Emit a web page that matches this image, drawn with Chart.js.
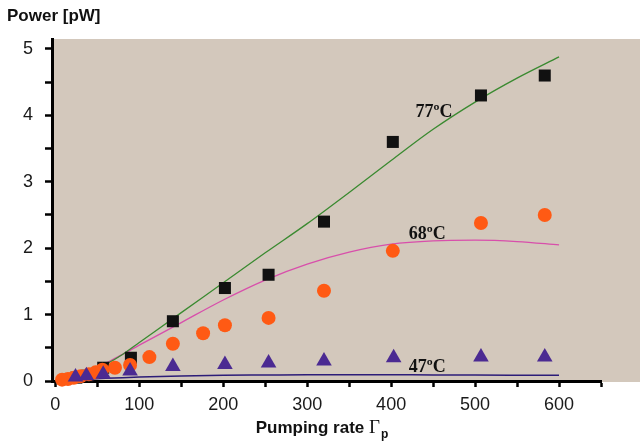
<!DOCTYPE html>
<html>
<head>
<meta charset="utf-8">
<script src="https://cdn.jsdelivr.net/npm/chart.js@4"></script>
<style>
  html, body { margin: 0; padding: 0; background: #fff; }
  #wrap { width: 640px; height: 445px; }
</style>
</head>
<body>
<div id="wrap"><canvas id="chart"></canvas></div>
<script>
// measured points, Power [pW] vs pumping rate
const sqX = [25, 38, 57, 90, 140, 202, 254, 320, 402, 507, 583];
const sqY = [0.05, 0.08, 0.2, 0.35, 0.9, 1.4, 1.6, 2.4, 3.6, 4.3, 4.6];
const dotX = [8, 15, 22, 30, 40, 48, 56, 71, 89, 112, 140, 176, 202, 254, 320, 402, 507, 583];
const dotY = [0.02, 0.03, 0.05, 0.07, 0.1, 0.13, 0.17, 0.2, 0.24, 0.36, 0.56, 0.72, 0.84, 0.95, 1.36, 1.96, 2.38, 2.5];
const triX = [24, 37, 57, 89, 140, 202, 254, 320, 403, 507, 583];
const triY = [0.06, 0.08, 0.1, 0.15, 0.22, 0.25, 0.27, 0.3, 0.35, 0.36, 0.36];

// model curves
const fitX = [0, 20, 40, 60, 80, 100, 150, 200, 250, 300, 350, 400, 450, 500, 550, 600];
const fit77 = [0, 0.05, 0.13, 0.25, 0.4, 0.58, 1.03, 1.48, 1.93, 2.37, 2.84, 3.32, 3.79, 4.2, 4.56, 4.88];
const fit68 = [0, 0.05, 0.14, 0.27, 0.4, 0.54, 0.88, 1.22, 1.52, 1.76, 1.94, 2.06, 2.11, 2.12, 2.1, 2.05];
const fit47 = [0, 0.015, 0.03, 0.04, 0.05, 0.06, 0.075, 0.085, 0.09, 0.095, 0.095, 0.095, 0.09, 0.09, 0.088, 0.085];

const xTicks = [0, 50, 100, 150, 200, 250, 300, 350, 400, 450, 500, 550, 600, 650];
const yTicks = [0, 0.5, 1, 1.5, 2, 2.5, 3, 3.5, 4, 4.5, 5];

const tempLabels = ['77ºC', '68ºC', '47ºC'];
const tempAt = [[451, 4.07], [443, 2.23], [443, 0.23]];

function pts(xs, ys) {
    return xs.map((x, i) => ({ x: x, y: ys[i] }));
}

const bgPlugin = {
    id: 'bg',
    beforeDraw(chart) {
        const { ctx, chartArea } = chart;
        ctx.save();
        ctx.fillStyle = '#d3c8bc';
        ctx.fillRect(chartArea.left, chartArea.top, chart.width - chartArea.left, chartArea.bottom - chartArea.top + 1);
        ctx.restore();
    }
};

const textPlugin = {
    id: 'texts',
    afterDraw(chart) {
        const ctx = chart.ctx;
        const xs = chart.scales.x, ys = chart.scales.y;
        ctx.save();
        ctx.fillStyle = '#111';
        ctx.textBaseline = 'alphabetic';
        // temperature labels
        ctx.font = 'bold 18px "Liberation Serif"';
        ctx.textAlign = 'center';
        tempLabels.forEach((t, i) => {
            ctx.fillText(t, xs.getPixelForValue(tempAt[i][0]), ys.getPixelForValue(tempAt[i][1]) + 6);
        });
        // y title
        ctx.textAlign = 'left';
        ctx.font = 'bold 17px "Liberation Sans"';
        ctx.fillText('Power [pW]', 7, 21);
        // x title with subscript
        const a = 'Pumping rate ';
        ctx.font = 'bold 17px "Liberation Sans"';
        const wa = ctx.measureText(a).width;
        ctx.font = '19px "Liberation Serif"';
        const wg = ctx.measureText('Γ').width;
        ctx.font = 'bold 12px "Liberation Sans"';
        const wp = ctx.measureText('p').width;
        let x0 = 322 - (wa + wg + wp + 1) / 2;
        const base = 433;
        ctx.font = 'bold 17px "Liberation Sans"';
        ctx.fillText(a, x0, base);
        ctx.font = '19px "Liberation Serif"';
        ctx.fillText('Γ', x0 + wa, base);
        ctx.font = 'bold 12px "Liberation Sans"';
        ctx.fillText('p', x0 + wa + wg + 1, base + 5);
        ctx.restore();
    }
};

const tickFont = { family: 'Liberation Sans', size: 18 };

new Chart(document.getElementById('chart'), {
    type: 'scatter',
    data: {
        // first dataset is drawn on top
        datasets: [
            { label: '47', data: pts(triX, triY), pointStyle: 'triangle', pointRadius: 9, backgroundColor: '#4b2a92', borderColor: '#4b2a92', borderWidth: 0, clip: false },
            { label: '68', data: pts(dotX, dotY), pointStyle: 'circle', pointRadius: 7, backgroundColor: '#ff5a14', borderColor: '#ff5a14', borderWidth: 0, clip: false },
            { label: '77', data: pts(sqX, sqY), pointStyle: 'rect', pointRadius: 8.5, backgroundColor: '#111', borderColor: '#111', borderWidth: 0, clip: false },
            { label: 'fit77', data: pts(fitX, fit77), showLine: true, pointRadius: 0, borderColor: '#3a8a30', borderWidth: 1.3, cubicInterpolationMode: 'monotone' },
            { label: 'fit68', data: pts(fitX, fit68), showLine: true, pointRadius: 0, borderColor: '#d84fab', borderWidth: 1.3, cubicInterpolationMode: 'monotone' },
            { label: 'fit47', data: pts(fitX, fit47), showLine: true, pointRadius: 0, borderColor: '#2c1c78', borderWidth: 1.5, cubicInterpolationMode: 'monotone' }
        ]
    },
    options: {
        responsive: true,
        maintainAspectRatio: false,
        animation: false,
        layout: { padding: { top: 39, right: 39, left: 0, bottom: 0 } },
        plugins: { legend: { display: false }, tooltip: { enabled: false } },
        scales: {
            x: {
                type: 'linear',
                min: -4,
                max: 650,
                afterBuildTicks: s => { s.ticks = xTicks.map(v => ({ value: v })); },
                afterFit: s => { s.height = 64; },
                border: { color: '#000', width: 3 },
                grid: { drawOnChartArea: false, tickLength: 6, color: '#000', tickWidth: 2.5 },
                ticks: {
                    font: tickFont, color: '#1a1a1a', padding: 7, maxRotation: 0, autoSkip: false,
                    callback: v => (v % 100 === 0 && v <= 600) ? String(v) : ''
                }
            },
            y: {
                type: 'linear',
                min: 0,
                max: 5.15,
                afterBuildTicks: s => { s.ticks = yTicks.map(v => ({ value: v })); },
                afterFit: s => { s.width = 52; },
                border: { color: '#000', width: 3 },
                grid: { drawOnChartArea: false, tickLength: 7, color: '#000', tickWidth: 2.5 },
                ticks: {
                    font: tickFont, color: '#1a1a1a', padding: 12, autoSkip: false,
                    callback: v => Number.isInteger(v) ? String(v) : ''
                }
            }
        }
    },
    plugins: [bgPlugin, textPlugin]
});
</script>
</body>
</html>
